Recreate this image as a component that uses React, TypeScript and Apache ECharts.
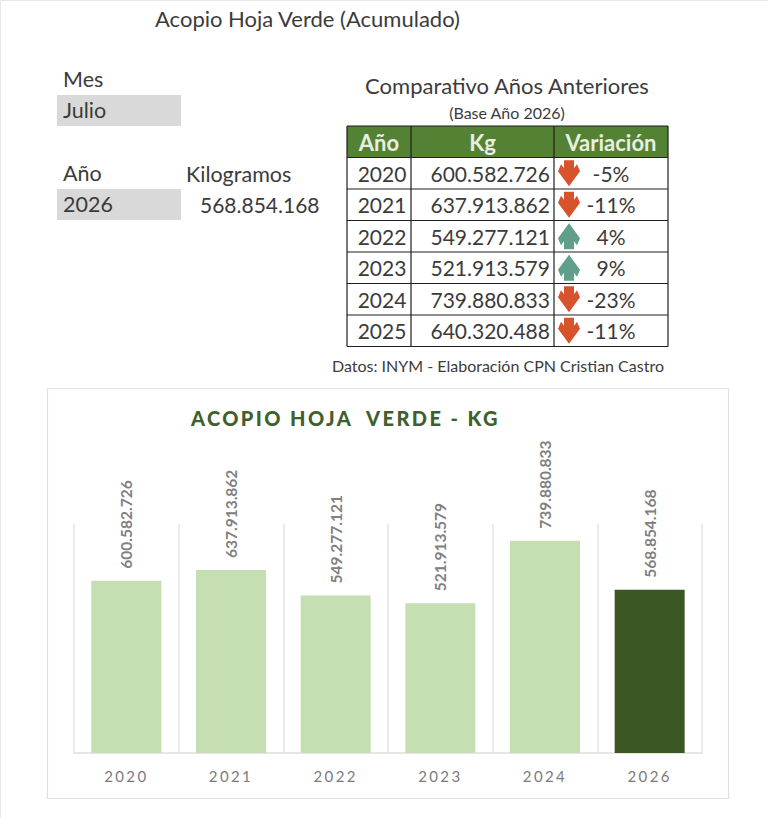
import { useEffect, useRef } from 'react'
import * as echarts from 'echarts'

const chartYears = ['2020', '2021', '2022', '2023', '2024', '2026']
const chartKg = [600582726, 637913862, 549277121, 521913579, 739880833, 568854168]

const tableYears = ['2020', '2021', '2022', '2023', '2024', '2025']
const tableKg = [600582726, 637913862, 549277121, 521913579, 739880833, 640320488]
const tableVariation = [-5, -11, 4, 9, -23, -11]
const tableHeaders = ['Año', 'Kg', 'Variación']

const FONT = 'Lato, "Open Sans", sans-serif'
const INK = '#3b3b3b'
const TITLE_GREEN = '#3f5f2d'
const AXIS_GREY = '#7d7a7a'
const LABEL_GREY = '#808080'

const colX = [347, 411, 554, 668]
const rowY = [126, 157.5, 189, 220.5, 252, 283.5, 315, 346.5]

const fmt = (n: number) => String(n).replace(/\B(?=(\d{3})+$)/g, '.')

function txt(text: string, x: number, y: number, fontSize: number, extra: Record<string, unknown> = {}) {
  return {
    type: 'text',
    x,
    y,
    silent: true,
    style: { text, fontSize, fontFamily: FONT, fill: INK, textVerticalAlign: 'middle', verticalAlign: 'middle', ...extra },
  }
}

// flecha de la columna Variación, centrada en (cx, cy)
function arrow(cx: number, cy: number, up: boolean) {
  const s = up ? -1 : 1
  const shape = [
    [-5, -13], [5, -13], [5, -5], [8, -9], [11, -2], [0, 13], [-11, -2], [-8, -9], [-5, -5],
  ]
  return {
    type: 'polygon',
    silent: true,
    shape: { points: shape.map(([px, py]) => [cx + px, cy + py * s]) },
    style: { fill: up ? '#5f9f8b' : '#d6532c' },
  }
}

function tableGraphics() {
  const items: any[] = []
  items.push({
    type: 'rect',
    silent: true,
    shape: { x: colX[0], y: rowY[0], width: colX[3] - colX[0], height: rowY[1] - rowY[0] },
    style: { fill: '#548235' },
  })
  tableHeaders.forEach((h, i) => {
    items.push(txt(h, (colX[i] + colX[i + 1]) / 2, (rowY[0] + rowY[1]) / 2 + 1, 22, { fill: '#e8efe0', align: 'center', fontWeight: 'bold' }))
  })
  tableYears.forEach((y, i) => {
    const cy = (rowY[i + 1] + rowY[i + 2]) / 2
    items.push(txt(y, (colX[0] + colX[1]) / 2 + 3, cy, 21, { align: 'center' }))
    items.push(txt(fmt(tableKg[i]), colX[2] - 4, cy, 21, { align: 'right' }))
    items.push(arrow(569, cy, tableVariation[i] > 0))
    items.push(txt(tableVariation[i] + '%', 611, cy, 21, { align: 'center' }))
  })
  rowY.forEach((y) => {
    items.push({ type: 'line', silent: true, shape: { x1: colX[0], y1: y, x2: colX[3], y2: y }, style: { stroke: '#1f1f1f', lineWidth: 1.2 } })
  })
  colX.forEach((x) => {
    items.push({ type: 'line', silent: true, shape: { x1: x, y1: rowY[0], x2: x, y2: rowY[7] }, style: { stroke: '#1f1f1f', lineWidth: 1.2 } })
  })
  return items
}

export default function App() {
  const chartRef = useRef<HTMLDivElement>(null)

  useEffect(() => {
    if (!chartRef.current) return
    const instance = echarts.init(chartRef.current, null, { renderer: 'svg' })

    const option: any = {
      animation: false,
      backgroundColor: '#ffffff',
      grid: { left: 74, right: 66, top: 524, bottom: 65 },
      xAxis: {
        type: 'category',
        data: chartYears,
        axisLine: { lineStyle: { color: '#dedede', width: 1.5 } },
        axisTick: { show: false },
        axisLabel: { color: AXIS_GREY, fontSize: 15, fontFamily: FONT, margin: 15 },
        splitLine: { show: true, interval: 0, lineStyle: { color: '#e4e4e4', width: 1.5 } },
      },
      yAxis: { type: 'value', min: 0, max: 798000000, show: false },
      series: [
        {
          type: 'bar',
          barWidth: 70,
          data: chartKg.map((v, i) => ({
            value: v,
            itemStyle: { color: chartYears[i] === '2026' ? '#3b5724' : '#c5dfb3' },
          })),
          label: {
            show: true,
            position: 'top',
            rotate: 90,
            align: 'left',
            verticalAlign: 'middle',
            distance: 12,
            color: LABEL_GREY,
            fontSize: 15.5,
            fontWeight: 'bold',
            fontFamily: FONT,
            formatter: (p: any) => fmt(p.value),
          },
        },
      ],
      graphic: [
        { type: 'rect', silent: true, z: -10, shape: { x: 0.5, y: 0.5, width: 780, height: 830 }, style: { fill: 'none', stroke: '#e8e8e8' } },
        { type: 'rect', silent: true, z: -10, shape: { x: 47.5, y: 388.5, width: 681, height: 410 }, style: { fill: 'none', stroke: '#e0e0e0', lineWidth: 1.2 } },
        { type: 'rect', silent: true, shape: { x: 57, y: 95, width: 124, height: 31 }, style: { fill: '#d9d9d9' } },
        { type: 'rect', silent: true, shape: { x: 57, y: 189, width: 124, height: 31 }, style: { fill: '#d9d9d9' } },
        txt('Acopio Hoja Verde (Acumulado)', 155, 18, 22),
        txt('Mes', 63, 79, 21.5),
        txt('Julio', 63, 110, 21.5),
        txt('Año', 63, 173, 21.5),
        txt('Kilogramos', 186, 174, 21.5),
        txt('2026', 63, 204, 21.5),
        txt(fmt(chartKg[5]), 200, 204, 21),
        txt('Comparativo Años Anteriores', 507, 85, 22, { align: 'center' }),
        txt('(Base Año 2026)', 507, 112, 16, { align: 'center' }),
        txt('Datos: INYM - Elaboración CPN Cristian Castro', 498, 365, 16, { align: 'center' }),
        txt('ACOPIO HOJA  VERDE - KG', 191, 418, 20, { fill: TITLE_GREEN, fontWeight: 900 }),
        ...tableGraphics(),
      ],
    }

    instance.setOption(option)
    return () => instance.dispose()
  }, [])

  return (
    <>
      <style>{`
        body { margin: 0; }
        svg text[fill="${TITLE_GREEN}"] { letter-spacing: 2.4px; }
        svg text[fill="${AXIS_GREY}"] { letter-spacing: 2.4px; }
      `}</style>
      <div ref={chartRef} style={{ width: 768, height: 818 }} />
    </>
  )
}
